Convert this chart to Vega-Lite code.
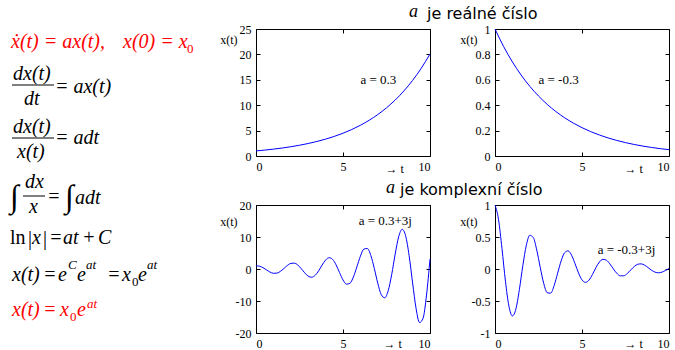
{
  "$schema": "https://vega.github.io/schema/vega-lite/v6.json",
  "background": "white",
  "padding": {"left": 0, "top": 2, "right": 0, "bottom": 0},
  "columns": 3,
  "spacing": {"row": 49, "column": 65},
  "bounds": "flush",
  "datasets": {
    "eq1": [
      {"s": "ẋ(t) = ax(t),", "x": 11, "y": 47, "kind": "i", "c": "r"},
      {"s": "x(0) = x", "x": 123, "y": 47, "kind": "i", "c": "r"},
      {"s": "0", "x": 187, "y": 52, "kind": "z", "c": "r"},
      {"s": "dx(t)", "x": 13, "y": 79, "kind": "i", "c": "k"},
      {"x": 12, "x2": 54, "y": 84, "kind": "bar", "c": "k"},
      {"s": "dt", "x": 24, "y": 104, "kind": "i", "c": "k"},
      {"s": "= ax(t)", "x": 55, "y": 92, "kind": "i", "c": "k"},
      {"s": "dx(t)", "x": 13, "y": 132, "kind": "i", "c": "k"},
      {"x": 12, "x2": 54, "y": 137, "kind": "bar", "c": "k"},
      {"s": "x(t)", "x": 17, "y": 157, "kind": "i", "c": "k"},
      {"s": "= adt", "x": 55, "y": 143, "kind": "i", "c": "k"}
    ],
    "eq2": [
      {"s": "∫", "x": 10, "y": 196, "kind": "int", "c": "k"},
      {"s": "dx", "x": 25, "y": 187, "kind": "i", "c": "k"},
      {"x": 23, "x2": 45, "y": 195, "kind": "bar", "c": "k"},
      {"s": "x", "x": 29, "y": 212, "kind": "i", "c": "k"},
      {"s": "=", "x": 47, "y": 202, "kind": "i", "c": "k"},
      {"s": "∫", "x": 65, "y": 196, "kind": "int", "c": "k"},
      {"s": "adt", "x": 75, "y": 203, "kind": "i", "c": "k"},
      {"s": "ln", "x": 10, "y": 243, "kind": "u", "c": "k"},
      {"s": "|", "x": 28, "y": 244, "kind": "u", "c": "k"},
      {"s": "x", "x": 32, "y": 243, "kind": "i", "c": "k"},
      {"s": "|", "x": 43, "y": 244, "kind": "u", "c": "k"},
      {"s": "=", "x": 49, "y": 243, "kind": "i", "c": "k"},
      {"s": "at", "x": 63, "y": 243, "kind": "i", "c": "k"},
      {"s": "+", "x": 82, "y": 243, "kind": "i", "c": "k"},
      {"s": "C", "x": 98, "y": 243, "kind": "i", "c": "k"},
      {"s": "x(t)", "x": 12, "y": 280, "kind": "i", "c": "k"},
      {"s": "=", "x": 43, "y": 280, "kind": "i", "c": "k"},
      {"s": "e", "x": 58, "y": 280, "kind": "i", "c": "k"},
      {"s": "C", "x": 68, "y": 268, "kind": "s", "c": "k"},
      {"s": "e", "x": 77, "y": 280, "kind": "i", "c": "k"},
      {"s": "at", "x": 86, "y": 268, "kind": "s", "c": "k"},
      {"s": "=", "x": 107, "y": 280, "kind": "i", "c": "k"},
      {"s": "x", "x": 122, "y": 280, "kind": "i", "c": "k"},
      {"s": "0", "x": 132, "y": 285, "kind": "z", "c": "k"},
      {"s": "e", "x": 138, "y": 280, "kind": "i", "c": "k"},
      {"s": "at", "x": 147, "y": 268, "kind": "s", "c": "k"},
      {"s": "x(t)", "x": 12, "y": 315, "kind": "i", "c": "r"},
      {"s": "=", "x": 43, "y": 315, "kind": "i", "c": "r"},
      {"s": "x", "x": 60, "y": 315, "kind": "i", "c": "r"},
      {"s": "0", "x": 70, "y": 320, "kind": "z", "c": "r"},
      {"s": "e", "x": 77, "y": 315, "kind": "i", "c": "r"},
      {"s": "at", "x": 87, "y": 307, "kind": "s", "c": "r"}
    ],
    "tl": [
      {"t": 0, "x": 1}, {"t": 0.5, "x": 1.1618}, {"t": 1, "x": 1.3499}, {"t": 1.5, "x": 1.5683},
      {"t": 2, "x": 1.8221}, {"t": 2.5, "x": 2.117}, {"t": 3, "x": 2.4596}, {"t": 3.5, "x": 2.8577},
      {"t": 4, "x": 3.3201}, {"t": 4.5, "x": 3.8574}, {"t": 5, "x": 4.4817}, {"t": 5.5, "x": 5.207},
      {"t": 6, "x": 6.0496}, {"t": 6.5, "x": 7.0287}, {"t": 7, "x": 8.1662}, {"t": 7.5, "x": 9.4877},
      {"t": 8, "x": 11.0232}, {"t": 8.5, "x": 12.8071}, {"t": 9, "x": 14.8797}, {"t": 9.5, "x": 17.2878},
      {"t": 10, "x": 20.0855}
    ],
    "tr": [
      {"t": 0, "x": 1}, {"t": 0.5, "x": 0.8607}, {"t": 1, "x": 0.7408}, {"t": 1.5, "x": 0.6376},
      {"t": 2, "x": 0.5488}, {"t": 2.5, "x": 0.4724}, {"t": 3, "x": 0.4066}, {"t": 3.5, "x": 0.3499},
      {"t": 4, "x": 0.3012}, {"t": 4.5, "x": 0.2592}, {"t": 5, "x": 0.2231}, {"t": 5.5, "x": 0.192},
      {"t": 6, "x": 0.1653}, {"t": 6.5, "x": 0.1423}, {"t": 7, "x": 0.1225}, {"t": 7.5, "x": 0.1054},
      {"t": 8, "x": 0.0907}, {"t": 8.5, "x": 0.0781}, {"t": 9, "x": 0.0672}, {"t": 9.5, "x": 0.0578},
      {"t": 10, "x": 0.0498}
    ],
    "bl": [
      {"t": 0, "x": 1}, {"t": 0.2, "x": 0.8763}, {"t": 0.4, "x": 0.4086}, {"t": 0.6, "x": -0.272},
      {"t": 0.8, "x": -0.9374}, {"t": 1, "x": -1.3364}, {"t": 1.2, "x": -1.2854}, {"t": 1.4, "x": -0.7462},
      {"t": 1.6, "x": 0.1414}, {"t": 1.8, "x": 1.0891}, {"t": 2, "x": 1.7496}, {"t": 2.2, "x": 1.8384},
      {"t": 2.4, "x": 1.2499}, {"t": 2.6, "x": 0.1178}, {"t": 2.8, "x": -1.2029}, {"t": 3, "x": -2.2409},
      {"t": 3.2, "x": -2.5717}, {"t": 3.4, "x": -1.9809}, {"t": 3.6, "x": -0.5722}, {"t": 3.8, "x": 1.2304},
      {"t": 4, "x": 2.8018}, {"t": 4.2, "x": 3.5233}, {"t": 4.4, "x": 3.0168}, {"t": 4.6, "x": 1.3149},
      {"t": 4.8, "x": -1.0965}, {"t": 5, "x": -3.4047}, {"t": 5.2, "x": -4.7312}, {"t": 5.4, "x": -4.4538},
      {"t": 5.6, "x": -2.4719}, {"t": 5.8, "x": 0.6888}, {"t": 6, "x": 3.9946}, {"t": 6.2, "x": 6.2252},
      {"t": 6.4, "x": 6.4063}, {"t": 6.6, "x": 4.2116}, {"t": 6.8, "x": 0.1569}, {"t": 7, "x": -4.4726},
      {"t": 7.2, "x": -8.0164}, {"t": 7.4, "x": -9.0075}, {"t": 7.6, "x": -6.7489}, {"t": 7.8, "x": -1.6735},
      {"t": 8, "x": 4.676}, {"t": 8.2, "x": 10.086}, {"t": 8.4, "x": 12.4}, {"t": 8.6, "x": 10.3663},
      {"t": 8.8, "x": 4.1885}, {"t": 9, "x": -4.3464}, {"t": 9.2, "x": -12.3412}, {"t": 9.4, "x": -16.7299},
      {"t": 9.6, "x": -15.4094}, {"t": 9.8, "x": -8.1451}, {"t": 10, "x": 3.0992}
    ],
    "br": [
      {"t": 0, "x": 1}, {"t": 0.2, "x": 0.7773}, {"t": 0.4, "x": 0.3214}, {"t": 0.6, "x": -0.1898},
      {"t": 0.8, "x": -0.5801}, {"t": 1, "x": -0.7334}, {"t": 1.2, "x": -0.6257}, {"t": 1.4, "x": -0.3221},
      {"t": 1.6, "x": 0.0541}, {"t": 1.8, "x": 0.3699}, {"t": 2, "x": 0.527}, {"t": 2.2, "x": 0.4911},
      {"t": 2.4, "x": 0.2961}, {"t": 2.6, "x": 0.0248}, {"t": 2.8, "x": -0.2242}, {"t": 3, "x": -0.3704},
      {"t": 3.2, "x": -0.377}, {"t": 3.4, "x": -0.2576}, {"t": 3.6, "x": -0.066}, {"t": 3.8, "x": 0.1258},
      {"t": 4, "x": 0.2542}, {"t": 4.2, "x": 0.2835}, {"t": 4.4, "x": 0.2153}, {"t": 4.6, "x": 0.0832},
      {"t": 4.8, "x": -0.0616}, {"t": 5, "x": -0.1695}, {"t": 5.2, "x": -0.2089}, {"t": 5.4, "x": -0.1744},
      {"t": 5.6, "x": -0.0859}, {"t": 5.8, "x": 0.0212}, {"t": 6, "x": 0.1091}, {"t": 6.2, "x": 0.1509},
      {"t": 6.4, "x": 0.1377}, {"t": 6.6, "x": 0.0803}, {"t": 6.8, "x": 0.0027}, {"t": 7, "x": -0.0671},
      {"t": 7.2, "x": -0.1066}, {"t": 7.4, "x": -0.1063}, {"t": 7.6, "x": -0.0706}, {"t": 7.8, "x": -0.0155},
      {"t": 8, "x": 0.0385}, {"t": 8.2, "x": 0.0736}, {"t": 8.4, "x": 0.0803}, {"t": 8.6, "x": 0.0595},
      {"t": 8.8, "x": 0.0213}, {"t": 9, "x": -0.0196}, {"t": 9.2, "x": -0.0494}, {"t": 9.4, "x": -0.0594},
      {"t": 9.6, "x": -0.0486}, {"t": 9.8, "x": -0.0228}, {"t": 10, "x": 0.0077}
    ],
    "ann_tl": [{"t": 6, "x": 15, "s": "a = 0.3"}],
    "ann_tr": [{"t": 2.5, "x": 0.6, "s": "a = -0.3"}],
    "ann_bl": [{"t": 5.9, "x": 15, "s": "a = 0.3+3j"}],
    "ann_br": [{"t": 5.9, "x": 0.3, "s": "a = -0.3+3j"}]
  },
  "concat": [
    {
      "width": 191, "height": 127, "view": {"stroke": null},
      "data": {"name": "eq1"},
      "encoding": {
        "x": {"field": "x", "type": "quantitative", "scale": {"domain": [0, 191], "nice": false, "zero": false}, "axis": null},
        "y": {"field": "y", "type": "quantitative", "scale": {"domain": [28, 155], "nice": false, "zero": false, "reverse": true}, "axis": null},
        "color": {"field": "c", "type": "nominal", "scale": {"domain": ["r", "k"], "range": ["#ff0000", "#000000"]}, "legend": null}
      },
      "layer": [
        {"transform": [{"filter": "datum.kind === 'i'"}], "mark": {"type": "text", "align": "left", "baseline": "alphabetic", "font": "Liberation Serif, Times New Roman, DejaVu Serif, serif", "fontStyle": "italic", "fontSize": 20}, "encoding": {"text": {"field": "s"}}},
        {"transform": [{"filter": "datum.kind === 'z'"}], "mark": {"type": "text", "align": "left", "baseline": "alphabetic", "font": "Liberation Serif, Times New Roman, DejaVu Serif, serif", "fontSize": 13}, "encoding": {"text": {"field": "s"}}},
        {"transform": [{"filter": "datum.kind === 'bar'"}], "mark": {"type": "rule", "strokeWidth": 1}, "encoding": {"x2": {"field": "x2"}}}
      ]
    },
    {
      "width": 174, "height": 127,
      "title": {"text": "a", "font": "Liberation Serif, Times New Roman, DejaVu Serif, serif", "fontStyle": "italic", "fontWeight": "normal", "fontSize": 18, "anchor": "end", "frame": "group", "dx": -12, "dy": 16, "offset": 4, "baseline": "alphabetic", "color": "black"},
      "layer": [
        {
          "data": {"name": "tl"},
          "mark": {"type": "line", "color": "#0000ff", "strokeWidth": 1, "interpolate": "monotone"},
          "encoding": {
            "x": {"field": "t", "type": "quantitative", "scale": {"domain": [0, 10], "nice": false, "zero": false}, "axis": {"orient": "bottom", "values": [0, 5, 10], "title": "→ t", "titleX": 129, "titleY": 16, "titleAlign": "left", "titleBaseline": "alphabetic", "titleAnchor": "start"}},
            "y": {"field": "x", "type": "quantitative", "scale": {"domain": [0, 25], "nice": false, "zero": false}, "axis": {"orient": "left", "values": [0, 5, 10, 15, 20, 25], "title": "x(t)", "titleAngle": 0, "titleX": -19, "titleY": 14, "titleAlign": "right", "titleBaseline": "alphabetic", "titleAnchor": "start"}}
          }
        },
        {
          "data": {"name": "ann_tl"},
          "mark": {"type": "text", "align": "left", "baseline": "middle", "font": "Liberation Serif, Times New Roman, DejaVu Serif, serif", "fontSize": 13, "color": "black"},
          "encoding": {
            "x": {"field": "t", "type": "quantitative", "axis": {"orient": "top", "values": [0, 5, 10], "labels": false, "title": null}},
            "y": {"field": "x", "type": "quantitative", "axis": {"orient": "right", "values": [0, 5, 10, 15, 20, 25], "labels": false, "title": null}},
            "text": {"field": "s"}
          }
        }
      ],
      "resolve": {"axis": {"x": "independent", "y": "independent"}}
    },
    {
      "width": 174, "height": 127,
      "title": {"text": "je reálné číslo", "font": "DejaVu Sans", "fontWeight": "normal", "fontSize": 16, "anchor": "start", "frame": "group", "dx": -68, "dy": 16, "offset": 4, "baseline": "alphabetic", "color": "black"},
      "layer": [
        {
          "data": {"name": "tr"},
          "mark": {"type": "line", "color": "#0000ff", "strokeWidth": 1, "interpolate": "monotone"},
          "encoding": {
            "x": {"field": "t", "type": "quantitative", "scale": {"domain": [0, 10], "nice": false, "zero": false}, "axis": {"orient": "bottom", "values": [0, 5, 10], "title": "→ t", "titleX": 129, "titleY": 16, "titleAlign": "left", "titleBaseline": "alphabetic", "titleAnchor": "start"}},
            "y": {"field": "x", "type": "quantitative", "scale": {"domain": [0, 1], "nice": false, "zero": false}, "axis": {"orient": "left", "values": [0, 0.2, 0.4, 0.6, 0.8, 1], "labelExpr": "format(datum.value, '~g')", "title": "x(t)", "titleAngle": 0, "titleX": -18, "titleY": 14, "titleAlign": "right", "titleBaseline": "alphabetic", "titleAnchor": "start"}}
          }
        },
        {
          "data": {"name": "ann_tr"},
          "mark": {"type": "text", "align": "left", "baseline": "middle", "font": "Liberation Serif, Times New Roman, DejaVu Serif, serif", "fontSize": 13, "color": "black"},
          "encoding": {
            "x": {"field": "t", "type": "quantitative", "axis": {"orient": "top", "values": [0, 5, 10], "labels": false, "title": null}},
            "y": {"field": "x", "type": "quantitative", "axis": {"orient": "right", "values": [0, 0.2, 0.4, 0.6, 0.8, 1], "labels": false, "title": null}},
            "text": {"field": "s"}
          }
        }
      ],
      "resolve": {"axis": {"x": "independent", "y": "independent"}}
    },
    {
      "width": 191, "height": 128, "view": {"stroke": null},
      "data": {"name": "eq2"},
      "encoding": {
        "x": {"field": "x", "type": "quantitative", "scale": {"domain": [0, 191], "nice": false, "zero": false}, "axis": null},
        "y": {"field": "y", "type": "quantitative", "scale": {"domain": [204, 332], "nice": false, "zero": false, "reverse": true}, "axis": null},
        "color": {"field": "c", "type": "nominal", "scale": {"domain": ["r", "k"], "range": ["#ff0000", "#000000"]}, "legend": null}
      },
      "layer": [
        {"transform": [{"filter": "datum.kind === 'i'"}], "mark": {"type": "text", "align": "left", "baseline": "alphabetic", "font": "Liberation Serif, Times New Roman, DejaVu Serif, serif", "fontStyle": "italic", "fontSize": 20}, "encoding": {"text": {"field": "s"}}},
        {"transform": [{"filter": "datum.kind === 'u'"}], "mark": {"type": "text", "align": "left", "baseline": "alphabetic", "font": "Liberation Serif, Times New Roman, DejaVu Serif, serif", "fontSize": 20}, "encoding": {"text": {"field": "s"}}},
        {"transform": [{"filter": "datum.kind === 's'"}], "mark": {"type": "text", "align": "left", "baseline": "alphabetic", "font": "Liberation Serif, Times New Roman, DejaVu Serif, serif", "fontStyle": "italic", "fontSize": 13}, "encoding": {"text": {"field": "s"}}},
        {"transform": [{"filter": "datum.kind === 'z'"}], "mark": {"type": "text", "align": "left", "baseline": "alphabetic", "font": "Liberation Serif, Times New Roman, DejaVu Serif, serif", "fontSize": 13}, "encoding": {"text": {"field": "s"}}},
        {"transform": [{"filter": "datum.kind === 'int'"}], "mark": {"type": "text", "align": "left", "baseline": "middle", "font": "Liberation Serif, Times New Roman, DejaVu Serif, serif", "fontSize": 32}, "encoding": {"text": {"field": "s"}}},
        {"transform": [{"filter": "datum.kind === 'bar'"}], "mark": {"type": "rule", "strokeWidth": 1}, "encoding": {"x2": {"field": "x2"}}}
      ]
    },
    {
      "width": 174, "height": 128,
      "title": {"text": "a", "font": "Liberation Serif, Times New Roman, DejaVu Serif, serif", "fontStyle": "italic", "fontWeight": "normal", "fontSize": 18, "anchor": "end", "frame": "group", "dx": -35, "dy": 16, "offset": 4, "baseline": "alphabetic", "color": "black"},
      "layer": [
        {
          "data": {"name": "bl"},
          "mark": {"type": "line", "color": "#0000ff", "strokeWidth": 1, "interpolate": "monotone"},
          "encoding": {
            "x": {"field": "t", "type": "quantitative", "scale": {"domain": [0, 10], "nice": false, "zero": false}, "axis": {"orient": "bottom", "values": [0, 5, 10], "title": "→ t", "titleX": 127, "titleY": 14, "titleAlign": "left", "titleBaseline": "alphabetic", "titleAnchor": "start"}},
            "y": {"field": "x", "type": "quantitative", "scale": {"domain": [-20, 20], "nice": false, "zero": false}, "axis": {"orient": "left", "values": [-20, -10, 0, 10, 20], "labelExpr": "replace(format(datum.value, '~g'), '\u2212', '-')", "title": "x(t)", "titleAngle": 0, "titleX": -19, "titleY": 20, "titleAlign": "right", "titleBaseline": "alphabetic", "titleAnchor": "start"}}
          }
        },
        {
          "data": {"name": "ann_bl"},
          "mark": {"type": "text", "align": "left", "baseline": "middle", "font": "Liberation Serif, Times New Roman, DejaVu Serif, serif", "fontSize": 13, "color": "black"},
          "encoding": {
            "x": {"field": "t", "type": "quantitative", "axis": {"orient": "top", "values": [0, 5, 10], "labels": false, "title": null}},
            "y": {"field": "x", "type": "quantitative", "axis": {"orient": "right", "values": [-20, -10, 0, 10, 20], "labels": false, "title": null}},
            "text": {"field": "s"}
          }
        }
      ],
      "resolve": {"axis": {"x": "independent", "y": "independent"}}
    },
    {
      "width": 174, "height": 128,
      "title": {"text": "je komplexní číslo", "font": "DejaVu Sans", "fontWeight": "normal", "fontSize": 16, "anchor": "start", "frame": "group", "dx": -95, "dy": 16, "offset": 4, "baseline": "alphabetic", "color": "black"},
      "layer": [
        {
          "data": {"name": "br"},
          "mark": {"type": "line", "color": "#0000ff", "strokeWidth": 1, "interpolate": "monotone"},
          "encoding": {
            "x": {"field": "t", "type": "quantitative", "scale": {"domain": [0, 10], "nice": false, "zero": false}, "axis": {"orient": "bottom", "values": [0, 5, 10], "title": "→ t", "titleX": 129, "titleY": 14, "titleAlign": "left", "titleBaseline": "alphabetic", "titleAnchor": "start"}},
            "y": {"field": "x", "type": "quantitative", "scale": {"domain": [-1, 1], "nice": false, "zero": false}, "axis": {"orient": "left", "values": [-1, -0.5, 0, 0.5, 1], "labelExpr": "replace(format(datum.value, '~g'), '\u2212', '-')", "title": "x(t)", "titleAngle": 0, "titleX": -18, "titleY": 20, "titleAlign": "right", "titleBaseline": "alphabetic", "titleAnchor": "start"}}
          }
        },
        {
          "data": {"name": "ann_br"},
          "mark": {"type": "text", "align": "left", "baseline": "middle", "font": "Liberation Serif, Times New Roman, DejaVu Serif, serif", "fontSize": 13, "color": "black"},
          "encoding": {
            "x": {"field": "t", "type": "quantitative", "axis": {"orient": "top", "values": [0, 5, 10], "labels": false, "title": null}},
            "y": {"field": "x", "type": "quantitative", "axis": {"orient": "right", "values": [-1, -0.5, 0, 0.5, 1], "labels": false, "title": null}},
            "text": {"field": "s"}
          }
        }
      ],
      "resolve": {"axis": {"x": "independent", "y": "independent"}}
    }
  ],
  "config": {
    "view": {"stroke": "black", "strokeWidth": 1},
    "axis": {
      "domain": false, "grid": false, "ticks": true, "tickColor": "black", "tickSize": -4, "tickWidth": 1,
      "labelFont": "Liberation Serif, Times New Roman, DejaVu Serif, serif", "labelFontSize": 12, "labelColor": "black", "labelPadding": 9,
      "titleFont": "Liberation Serif, Times New Roman, DejaVu Serif, serif", "titleFontSize": 12, "titleFontWeight": "normal", "titleColor": "black"
    }
  }
}
